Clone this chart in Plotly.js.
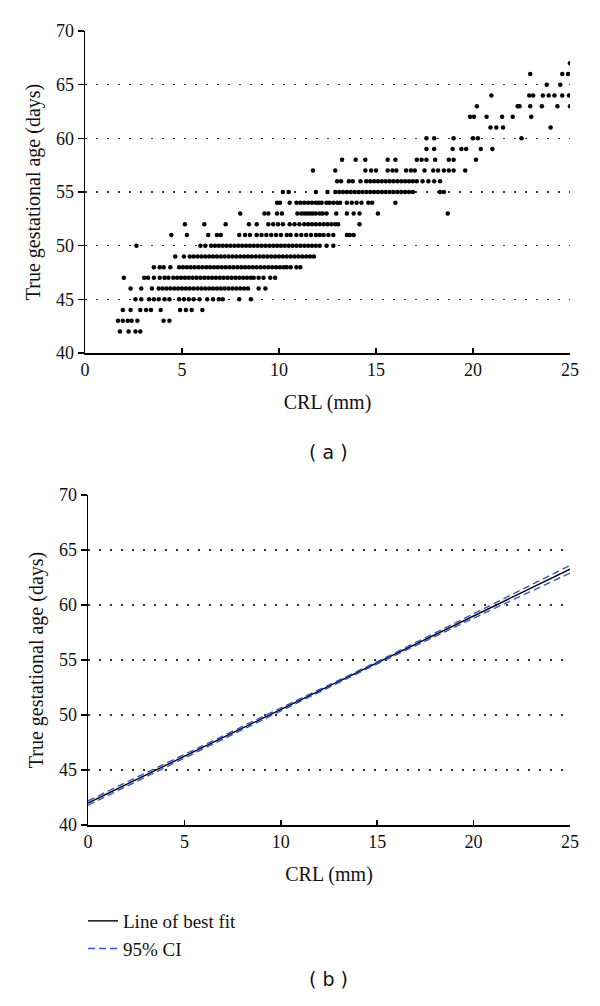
<!DOCTYPE html>
<html>
<head>
<meta charset="utf-8">
<script src="https://cdn.plot.ly/plotly-3.0.1.min.js"></script>
<style>
  html, body { margin: 0; padding: 0; background: #fff; }
  #plot { width: 600px; height: 1006px; }
</style>
</head>
<body>
<div id="plot"></div>
<script>
// (a) scatter: true gestational age (days) against CRL (mm), one row per day
const ages = [42, 43, 44, 45, 46, 47, 48, 49, 50, 51, 52, 53, 54, 55, 56, 57, 58, 59, 60, 61, 62, 63, 64, 65, 66, 67];
const crlRows = [
  [1.8, 2.25, 2.6, 2.85],
  [1.7, 1.95, 2.2, 2.4, 2.7, 4.05, 4.35],
  [1.95, 2.35, 2.85, 3.15, 3.4, 3.9, 4.9, 5.2, 5.5, 6.05],
  [2.6, 2.9, 3.3, 3.55, 3.8, 4.1, 4.35, 4.85, 5.1, 5.35, 5.6, 5.9, 6.3, 6.6, 6.9, 7.1, 7.95, 8.55],
  [2.35, 2.9, 3.45, 3.8, 4.0, 4.2, 4.4, 4.6, 4.8, 5.0, 5.2, 5.4, 5.6, 5.8, 6.0, 6.2, 6.4, 6.6, 6.8, 7.0, 7.2, 7.4, 7.6, 7.8, 8.0, 8.2, 8.4, 8.95, 9.3],
  [2.0, 3.05, 3.25, 3.55, 3.85, 4.1, 4.3, 4.55, 4.75, 4.95, 5.15, 5.35, 5.55, 5.75, 5.95, 6.15, 6.35, 6.55, 6.75, 6.95, 7.15, 7.35, 7.55, 7.75, 7.95, 8.15, 8.35, 8.55, 8.7, 8.95, 9.2, 9.55, 9.8],
  [3.55, 3.85, 4.05, 4.4, 4.85, 5.05, 5.25, 5.45, 5.65, 5.85, 6.05, 6.25, 6.45, 6.65, 6.85, 7.05, 7.25, 7.45, 7.65, 7.85, 8.05, 8.25, 8.45, 8.65, 8.85, 9.05, 9.25, 9.45, 9.65, 9.85, 10.05, 10.25, 10.4, 10.6, 10.9, 11.1],
  [4.65, 5.1, 5.4, 5.6, 5.8, 6.0, 6.2, 6.4, 6.6, 6.8, 7.0, 7.2, 7.4, 7.6, 7.8, 8.0, 8.2, 8.4, 8.6, 8.8, 9.0, 9.2, 9.4, 9.6, 9.8, 10.0, 10.2, 10.4, 10.6, 10.8, 11.0, 11.2, 11.4, 11.6, 11.8],
  [2.65, 5.95, 6.2, 6.5, 6.7, 6.9, 7.1, 7.3, 7.5, 7.7, 7.9, 8.1, 8.3, 8.5, 8.7, 8.9, 9.1, 9.3, 9.5, 9.7, 9.9, 10.1, 10.3, 10.5, 10.7, 10.9, 11.1, 11.3, 11.5, 11.7, 11.9, 12.1, 12.45, 12.8],
  [4.45, 5.25, 6.35, 6.8, 7.0, 7.95, 8.25, 8.5, 8.85, 9.1, 9.35, 9.6, 9.85, 10.1, 10.4, 10.6, 10.9, 11.15, 11.4, 11.65, 11.9, 12.1, 12.3, 12.55, 12.8, 13.5, 13.65, 13.85],
  [5.15, 6.15, 7.25, 8.45, 8.85, 9.45, 9.7, 9.95, 10.2, 10.55, 10.8, 11.05, 11.3, 11.5, 11.7, 11.9, 12.1, 12.3, 12.5, 12.7, 12.9, 13.05, 14.15],
  [8.0, 9.25, 9.45, 9.9, 10.15, 10.95, 11.15, 11.3, 11.45, 11.6, 11.75, 11.9, 12.1, 12.25, 12.45, 12.95, 13.5, 13.85, 14.15, 15.1, 18.7],
  [9.9, 10.05, 10.55, 10.9, 11.1, 11.3, 11.5, 11.7, 11.9, 12.05, 12.2, 12.45, 12.6, 12.8, 13.0, 13.15, 13.5, 13.75, 14.0, 14.25, 14.6, 14.8, 16.0],
  [10.2, 10.5, 11.9, 12.5, 12.9, 13.1, 13.3, 13.5, 13.7, 13.9, 14.1, 14.3, 14.5, 14.7, 14.9, 15.1, 15.3, 15.5, 15.7, 15.9, 16.1, 16.3, 16.5, 16.7, 16.9, 18.3, 18.5],
  [13.0, 13.2, 13.6, 13.8, 14.2, 14.5, 14.7, 14.9, 15.1, 15.3, 15.5, 15.7, 15.9, 16.1, 16.3, 16.5, 16.7, 16.9, 17.1, 17.4, 17.7, 18.0, 18.3],
  [11.75, 12.9, 14.45, 14.75, 15.0, 15.6, 15.85, 16.05, 16.55, 16.8, 17.0, 17.5, 17.95, 18.2, 18.5, 18.75, 19.0, 19.6],
  [13.25, 13.95, 14.45, 15.6, 16.0, 17.1, 17.35, 17.6, 18.05, 18.75, 19.0, 20.15],
  [17.6, 18.0, 18.95, 19.4, 19.65, 20.4, 21.0],
  [17.6, 18.0, 19.0, 20.0, 20.25, 22.5],
  [20.9, 21.2, 21.55, 24.0],
  [19.85, 20.05, 20.7, 21.5, 22.05, 23.0],
  [20.2, 22.3, 22.4, 22.95, 23.55, 24.35, 25.0],
  [20.95, 22.9, 23.1, 23.6, 23.9, 24.2, 24.6, 24.95],
  [23.8, 24.5],
  [22.95, 24.6, 24.9],
  [25.0]
];

// (b) regression line and 95% CI
const crlFit = [0, 5, 10, 15, 20, 25];
const ageFit = [42.0, 46.25, 50.5, 54.75, 59.0, 63.25];
const ciUpper = [42.2, 46.4, 50.6, 54.85, 59.2, 63.6];
const ciLower = [41.8, 46.1, 50.4, 54.65, 58.8, 62.9];

const scatterX = [];
const scatterY = [];
crlRows.forEach(function(row, i) {
    row.forEach(function(v) {
        scatterX.push(v);
        scatterY.push(ages[i]);
    });
});

const serif = 'Liberation Serif, Times New Roman, serif';
const tickFont = { family: serif, size: 18, color: '#111' };
const titleFont = { family: serif, size: 20, color: '#111' };

function xAxis(domain, anchor) {
    return {
        domain: domain, anchor: anchor,
        range: [0, 25], dtick: 5, tick0: 0,
        showline: true, linecolor: '#000', linewidth: 1.5,
        ticks: 'inside', ticklen: 5, tickcolor: '#000', tickwidth: 1.5,
        showgrid: false, zeroline: false, fixedrange: true,
        tickfont: tickFont,
        title: { text: 'CRL (mm)', font: titleFont, standoff: 16 }
    };
}
function yAxis(domain, anchor) {
    return {
        domain: domain, anchor: anchor,
        range: [40, 70], dtick: 5, tick0: 40,
        showline: true, linecolor: '#000', linewidth: 1.5,
        ticks: 'outside', ticklen: 6, tickcolor: '#000', tickwidth: 1.5,
        showgrid: true, gridcolor: '#333', gridwidth: 1.5, griddash: '1.5px,9.5px',
        zeroline: false, fixedrange: true,
        tickfont: tickFont,
        title: { text: 'True gestational age (days)', font: titleFont, standoff: 10 }
    };
}

const scatter = {
    x: scatterX, y: scatterY,
    xaxis: 'x', yaxis: 'y',
    type: 'scatter', mode: 'markers',
    marker: { color: '#000', size: 4.5 },
    showlegend: false, hoverinfo: 'x+y'
};
const fitLine = {
    x: crlFit, y: ageFit,
    xaxis: 'x2', yaxis: 'y2',
    type: 'scatter', mode: 'lines',
    name: 'Line of best fit',
    line: { color: '#000', width: 1.4 }
};
const upper = {
    x: crlFit, y: ciUpper,
    xaxis: 'x2', yaxis: 'y2',
    type: 'scatter', mode: 'lines',
    name: '95% CI', legendgroup: 'ci',
    line: { color: '#3355cc', width: 1.4, dash: '7px,4px' }
};
const lower = {
    x: crlFit, y: ciLower,
    xaxis: 'x2', yaxis: 'y2',
    type: 'scatter', mode: 'lines',
    name: '95% CI', legendgroup: 'ci', showlegend: false,
    line: { color: '#3355cc', width: 1.4, dash: '7px,4px' }
};

const W = 600, H = 1006;
const layout = {
    width: W, height: H,
    margin: { l: 0, r: 0, t: 0, b: 0 },
    paper_bgcolor: '#fff', plot_bgcolor: '#fff',
    xaxis: xAxis([85 / W, 570 / W], 'y'),
    yaxis: yAxis([1 - 353 / H, 1 - 31 / H], 'x'),
    xaxis2: xAxis([88 / W, 570 / W], 'y2'),
    yaxis2: yAxis([1 - 825 / H, 1 - 495 / H], 'x2'),
    showlegend: true,
    legend: {
        x: 83 / W, xanchor: 'left',
        y: 1 - 902 / H, yanchor: 'top',
        traceorder: 'normal',
        font: { family: serif, size: 19, color: '#111' },
        bgcolor: 'rgba(0,0,0,0)'
    },
    annotations: [
        { text: '( a )', xref: 'paper', yref: 'paper', x: 328 / W, y: 1 - 452 / H,
          showarrow: false, font: { family: 'DejaVu Sans, Verdana, sans-serif', size: 19, color: '#111' } },
        { text: '( b )', xref: 'paper', yref: 'paper', x: 328 / W, y: 1 - 992 / H,
          showarrow: false, font: { family: 'DejaVu Sans, Verdana, sans-serif', size: 19, color: '#111' } }
    ]
};

Plotly.newPlot('plot', [scatter, fitLine, upper, lower], layout, { displayModeBar: false, staticPlot: true });
</script>
</body>
</html>
